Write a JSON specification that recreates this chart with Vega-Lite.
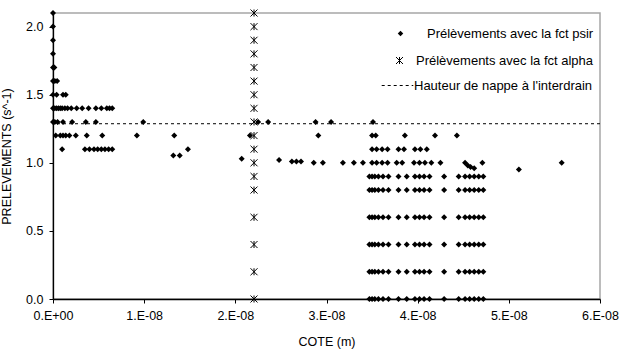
{
  "$schema": "https://vega.github.io/schema/vega-lite/v6.json",
  "width": 547,
  "height": 286,
  "autosize": "none",
  "padding": {"left": 53, "top": 13, "right": 19, "bottom": 52},
  "background": "white",
  "config": {
    "view": {"stroke": "#a6a6a6", "strokeWidth": 1.5},
    "font": "Liberation Sans",
    "axis": {"grid": false, "domainColor": "black", "tickColor": "black", "labelColor": "black", "titleColor": "black", "labelFont": "Liberation Sans", "titleFont": "Liberation Sans", "labelFontSize": 12.5, "titleFontSize": 12.5, "titleFontWeight": "normal", "tickSize": 4, "domainWidth": 1.3},
    "legend": {"orient": "none", "padding": 0, "labelFont": "Liberation Sans", "labelFontSize": 13, "labelColor": "black", "labelLimit": 300}
  },
  "datasets": {
    "psir": [
      {"x": 0, "y": 2.1}, {"x": 0, "y": 2.0}, {"x": 0, "y": 1.9}, {"x": 0, "y": 1.8}, {"x": 0, "y": 1.7}, {"x": 0.015e-8, "y": 1.7},
      {"x": 0, "y": 1.6}, {"x": 0.02e-8, "y": 1.6}, {"x": 0.045e-8, "y": 1.6},
      {"x": 0, "y": 1.5}, {"x": 0.04e-8, "y": 1.5}, {"x": 0.11e-8, "y": 1.5}, {"x": 0.14e-8, "y": 1.5},
      {"x": 0, "y": 1.4}, {"x": 0.02e-8, "y": 1.4}, {"x": 0.04e-8, "y": 1.4}, {"x": 0.06e-8, "y": 1.4}, {"x": 0.08e-8, "y": 1.4}, {"x": 0.10e-8, "y": 1.4}, {"x": 0.13e-8, "y": 1.4}, {"x": 0.16e-8, "y": 1.4}, {"x": 0.20e-8, "y": 1.4}, {"x": 0.26e-8, "y": 1.4}, {"x": 0.32e-8, "y": 1.4}, {"x": 0.39e-8, "y": 1.4}, {"x": 0.47e-8, "y": 1.4}, {"x": 0.53e-8, "y": 1.4}, {"x": 0.59e-8, "y": 1.4}, {"x": 0.62e-8, "y": 1.4}, {"x": 0.65e-8, "y": 1.4},
      {"x": 0, "y": 1.3}, {"x": 0.02e-8, "y": 1.3}, {"x": 0.05e-8, "y": 1.3}, {"x": 0.11e-8, "y": 1.3}, {"x": 0.21e-8, "y": 1.3}, {"x": 0.36e-8, "y": 1.3}, {"x": 0.47e-8, "y": 1.3}, {"x": 0.99e-8, "y": 1.3}, {"x": 2.25e-8, "y": 1.3}, {"x": 2.36e-8, "y": 1.3}, {"x": 2.88e-8, "y": 1.3}, {"x": 3.05e-8, "y": 1.3}, {"x": 3.51e-8, "y": 1.3},
      {"x": 0.03e-8, "y": 1.2}, {"x": 0.08e-8, "y": 1.2}, {"x": 0.11e-8, "y": 1.2}, {"x": 0.14e-8, "y": 1.2}, {"x": 0.18e-8, "y": 1.2}, {"x": 0.25e-8, "y": 1.2}, {"x": 0.37e-8, "y": 1.2}, {"x": 0.54e-8, "y": 1.2}, {"x": 0.92e-8, "y": 1.2}, {"x": 1.33e-8, "y": 1.2}, {"x": 2.16e-8, "y": 1.2}, {"x": 2.91e-8, "y": 1.2}, {"x": 3.50e-8, "y": 1.2}, {"x": 3.54e-8, "y": 1.2}, {"x": 3.86e-8, "y": 1.2}, {"x": 4.19e-8, "y": 1.2}, {"x": 4.43e-8, "y": 1.2},
      {"x": 0.10e-8, "y": 1.1}, {"x": 0.35e-8, "y": 1.1}, {"x": 0.40e-8, "y": 1.1}, {"x": 0.45e-8, "y": 1.1}, {"x": 0.49e-8, "y": 1.1}, {"x": 0.53e-8, "y": 1.1}, {"x": 0.57e-8, "y": 1.1}, {"x": 0.61e-8, "y": 1.1}, {"x": 0.65e-8, "y": 1.1}, {"x": 1.48e-8, "y": 1.1}, {"x": 3.50e-8, "y": 1.1}, {"x": 3.55e-8, "y": 1.1}, {"x": 3.61e-8, "y": 1.1}, {"x": 3.67e-8, "y": 1.1}, {"x": 3.79e-8, "y": 1.1}, {"x": 3.85e-8, "y": 1.1}, {"x": 3.97e-8, "y": 1.1}, {"x": 4.03e-8, "y": 1.1}, {"x": 4.10e-8, "y": 1.1},
      {"x": 1.32e-8, "y": 1.054}, {"x": 1.39e-8, "y": 1.054},
      {"x": 2.07e-8, "y": 1.03}, {"x": 2.48e-8, "y": 1.02}, {"x": 2.62e-8, "y": 1.01}, {"x": 2.67e-8, "y": 1.01}, {"x": 2.72e-8, "y": 1.01}, {"x": 2.86e-8, "y": 1.0}, {"x": 2.96e-8, "y": 1.0}, {"x": 3.18e-8, "y": 1.0}, {"x": 3.30e-8, "y": 1.0}, {"x": 3.40e-8, "y": 1.0}, {"x": 3.50e-8, "y": 1.0}, {"x": 3.55e-8, "y": 1.0}, {"x": 3.61e-8, "y": 1.0}, {"x": 3.67e-8, "y": 1.0}, {"x": 3.77e-8, "y": 1.0}, {"x": 3.83e-8, "y": 1.0}, {"x": 3.96e-8, "y": 1.0}, {"x": 4.02e-8, "y": 1.0}, {"x": 4.08e-8, "y": 1.0}, {"x": 4.15e-8, "y": 1.0}, {"x": 4.25e-8, "y": 1.0}, {"x": 4.52e-8, "y": 1.0}, {"x": 4.55e-8, "y": 0.98}, {"x": 4.58e-8, "y": 0.97}, {"x": 4.62e-8, "y": 0.96}, {"x": 4.71e-8, "y": 1.0}, {"x": 5.11e-8, "y": 0.95}, {"x": 5.58e-8, "y": 1.0},
      {"x": 3.47e-8, "y": 0.9}, {"x": 3.50e-8, "y": 0.9}, {"x": 3.53e-8, "y": 0.9}, {"x": 3.57e-8, "y": 0.9}, {"x": 3.62e-8, "y": 0.9}, {"x": 3.68e-8, "y": 0.9}, {"x": 3.79e-8, "y": 0.9}, {"x": 3.88e-8, "y": 0.9}, {"x": 3.97e-8, "y": 0.9}, {"x": 4.02e-8, "y": 0.9}, {"x": 4.07e-8, "y": 0.9}, {"x": 4.13e-8, "y": 0.9}, {"x": 4.29e-8, "y": 0.9}, {"x": 4.45e-8, "y": 0.9}, {"x": 4.52e-8, "y": 0.9}, {"x": 4.57e-8, "y": 0.9}, {"x": 4.62e-8, "y": 0.9}, {"x": 4.67e-8, "y": 0.9}, {"x": 4.72e-8, "y": 0.9},
      {"x": 3.47e-8, "y": 0.8}, {"x": 3.50e-8, "y": 0.8}, {"x": 3.53e-8, "y": 0.8}, {"x": 3.57e-8, "y": 0.8}, {"x": 3.62e-8, "y": 0.8}, {"x": 3.68e-8, "y": 0.8}, {"x": 3.79e-8, "y": 0.8}, {"x": 3.88e-8, "y": 0.8}, {"x": 3.97e-8, "y": 0.8}, {"x": 4.02e-8, "y": 0.8}, {"x": 4.07e-8, "y": 0.8}, {"x": 4.13e-8, "y": 0.8}, {"x": 4.29e-8, "y": 0.8}, {"x": 4.45e-8, "y": 0.8}, {"x": 4.52e-8, "y": 0.8}, {"x": 4.57e-8, "y": 0.8}, {"x": 4.62e-8, "y": 0.8}, {"x": 4.67e-8, "y": 0.8}, {"x": 4.72e-8, "y": 0.8},
      {"x": 3.47e-8, "y": 0.6}, {"x": 3.50e-8, "y": 0.6}, {"x": 3.53e-8, "y": 0.6}, {"x": 3.57e-8, "y": 0.6}, {"x": 3.62e-8, "y": 0.6}, {"x": 3.68e-8, "y": 0.6}, {"x": 3.79e-8, "y": 0.6}, {"x": 3.88e-8, "y": 0.6}, {"x": 3.97e-8, "y": 0.6}, {"x": 4.02e-8, "y": 0.6}, {"x": 4.07e-8, "y": 0.6}, {"x": 4.13e-8, "y": 0.6}, {"x": 4.29e-8, "y": 0.6}, {"x": 4.45e-8, "y": 0.6}, {"x": 4.52e-8, "y": 0.6}, {"x": 4.57e-8, "y": 0.6}, {"x": 4.62e-8, "y": 0.6}, {"x": 4.67e-8, "y": 0.6}, {"x": 4.72e-8, "y": 0.6},
      {"x": 3.47e-8, "y": 0.4}, {"x": 3.50e-8, "y": 0.4}, {"x": 3.53e-8, "y": 0.4}, {"x": 3.57e-8, "y": 0.4}, {"x": 3.62e-8, "y": 0.4}, {"x": 3.68e-8, "y": 0.4}, {"x": 3.79e-8, "y": 0.4}, {"x": 3.88e-8, "y": 0.4}, {"x": 3.97e-8, "y": 0.4}, {"x": 4.02e-8, "y": 0.4}, {"x": 4.07e-8, "y": 0.4}, {"x": 4.13e-8, "y": 0.4}, {"x": 4.29e-8, "y": 0.4}, {"x": 4.45e-8, "y": 0.4}, {"x": 4.52e-8, "y": 0.4}, {"x": 4.57e-8, "y": 0.4}, {"x": 4.62e-8, "y": 0.4}, {"x": 4.67e-8, "y": 0.4}, {"x": 4.72e-8, "y": 0.4},
      {"x": 3.47e-8, "y": 0.2}, {"x": 3.50e-8, "y": 0.2}, {"x": 3.53e-8, "y": 0.2}, {"x": 3.57e-8, "y": 0.2}, {"x": 3.62e-8, "y": 0.2}, {"x": 3.68e-8, "y": 0.2}, {"x": 3.79e-8, "y": 0.2}, {"x": 3.88e-8, "y": 0.2}, {"x": 3.97e-8, "y": 0.2}, {"x": 4.02e-8, "y": 0.2}, {"x": 4.07e-8, "y": 0.2}, {"x": 4.13e-8, "y": 0.2}, {"x": 4.29e-8, "y": 0.2}, {"x": 4.45e-8, "y": 0.2}, {"x": 4.52e-8, "y": 0.2}, {"x": 4.57e-8, "y": 0.2}, {"x": 4.62e-8, "y": 0.2}, {"x": 4.67e-8, "y": 0.2}, {"x": 4.72e-8, "y": 0.2},
      {"x": 3.47e-8, "y": 0.0}, {"x": 3.50e-8, "y": 0.0}, {"x": 3.53e-8, "y": 0.0}, {"x": 3.57e-8, "y": 0.0}, {"x": 3.62e-8, "y": 0.0}, {"x": 3.68e-8, "y": 0.0}, {"x": 3.79e-8, "y": 0.0}, {"x": 3.88e-8, "y": 0.0}, {"x": 3.97e-8, "y": 0.0}, {"x": 4.02e-8, "y": 0.0}, {"x": 4.07e-8, "y": 0.0}, {"x": 4.13e-8, "y": 0.0}, {"x": 4.29e-8, "y": 0.0}, {"x": 4.45e-8, "y": 0.0}, {"x": 4.52e-8, "y": 0.0}, {"x": 4.57e-8, "y": 0.0}, {"x": 4.62e-8, "y": 0.0}, {"x": 4.67e-8, "y": 0.0}, {"x": 4.72e-8, "y": 0.0}
    ],
    "alpha": [
      {"x": 2.205e-8, "y": 2.1}, {"x": 2.205e-8, "y": 2.0}, {"x": 2.205e-8, "y": 1.9}, {"x": 2.205e-8, "y": 1.8}, {"x": 2.205e-8, "y": 1.7}, {"x": 2.205e-8, "y": 1.6}, {"x": 2.205e-8, "y": 1.5}, {"x": 2.205e-8, "y": 1.4}, {"x": 2.205e-8, "y": 1.3}, {"x": 2.205e-8, "y": 1.2}, {"x": 2.205e-8, "y": 1.1}, {"x": 2.205e-8, "y": 1.0}, {"x": 2.205e-8, "y": 0.9}, {"x": 2.205e-8, "y": 0.8}, {"x": 2.205e-8, "y": 0.6}, {"x": 2.205e-8, "y": 0.4}, {"x": 2.205e-8, "y": 0.2}, {"x": 2.205e-8, "y": 0.0}
    ],
    "nappe": [{"y": 1.287}]
  },
  "layer": [
    {
      "data": {"name": "nappe"},
      "mark": {"type": "rule", "color": "black", "strokeWidth": 1},
      "encoding": {
        "y": {"field": "y", "type": "quantitative"},
        "strokeDash": {"datum": "Hauteur de nappe à l'interdrain", "scale": {"range": [[3, 3]]},
          "legend": {"title": null, "legendX": 328, "legendY": 56, "symbolSize": 1000, "symbolStrokeWidth": 1, "symbolStrokeColor": "black", "labelOffset": 0}}
      }
    },
    {
      "data": {"name": "psir"},
      "mark": {"type": "point", "shape": "diamond", "filled": true, "color": "black", "size": 36, "opacity": 1, "strokeWidth": 0},
      "encoding": {
        "x": {"field": "x", "type": "quantitative"},
        "y": {"field": "y", "type": "quantitative"},
        "shape": {"datum": "Prélèvements avec la fct psir", "scale": {"range": ["diamond"]},
          "legend": {"title": null, "legendX": 341, "legendY": 14, "symbolSize": 30, "symbolFillColor": "black", "symbolStrokeWidth": 0, "labelOffset": 20}}
      }
    },
    {
      "data": {"name": "alpha"},
      "mark": {"type": "point", "shape": "M-1,-1L1,1M-1,1L1,-1M0,-1L0,1", "filled": false, "color": "black", "size": 49, "opacity": 1, "strokeWidth": 1},
      "encoding": {
        "x": {"field": "x", "type": "quantitative"},
        "y": {"field": "y", "type": "quantitative"},
        "stroke": {"datum": "Prélèvements avec la fct alpha", "scale": {"range": ["black"]},
          "legend": {"title": null, "legendX": 340, "legendY": 41, "symbolSize": 49, "symbolStrokeWidth": 1, "labelOffset": 10}}
      }
    }
  ],
  "encoding": {
    "x": {"type": "quantitative", "scale": {"domain": [0, 6e-8], "nice": false, "zero": true},
      "axis": {"title": "COTE (m)", "values": [0, 1e-8, 2e-8, 3e-8, 4e-8, 5e-8, 6e-8], "labelExpr": "datum.value == 0 ? '0.E+00' : round(datum.value * 1e8) + '.E-08'", "labelAlign": "center", "labelFlush": false, "labelOverlap": false, "labelPadding": 6, "titlePadding": 14}},
    "y": {"type": "quantitative", "scale": {"domain": [0, 2.1], "nice": false},
      "axis": {"title": "PRELEVEMENTS (s^-1)", "values": [0, 0.5, 1, 1.5, 2], "format": ".1f", "labelPadding": 6, "titlePadding": 12}}
  }
}
